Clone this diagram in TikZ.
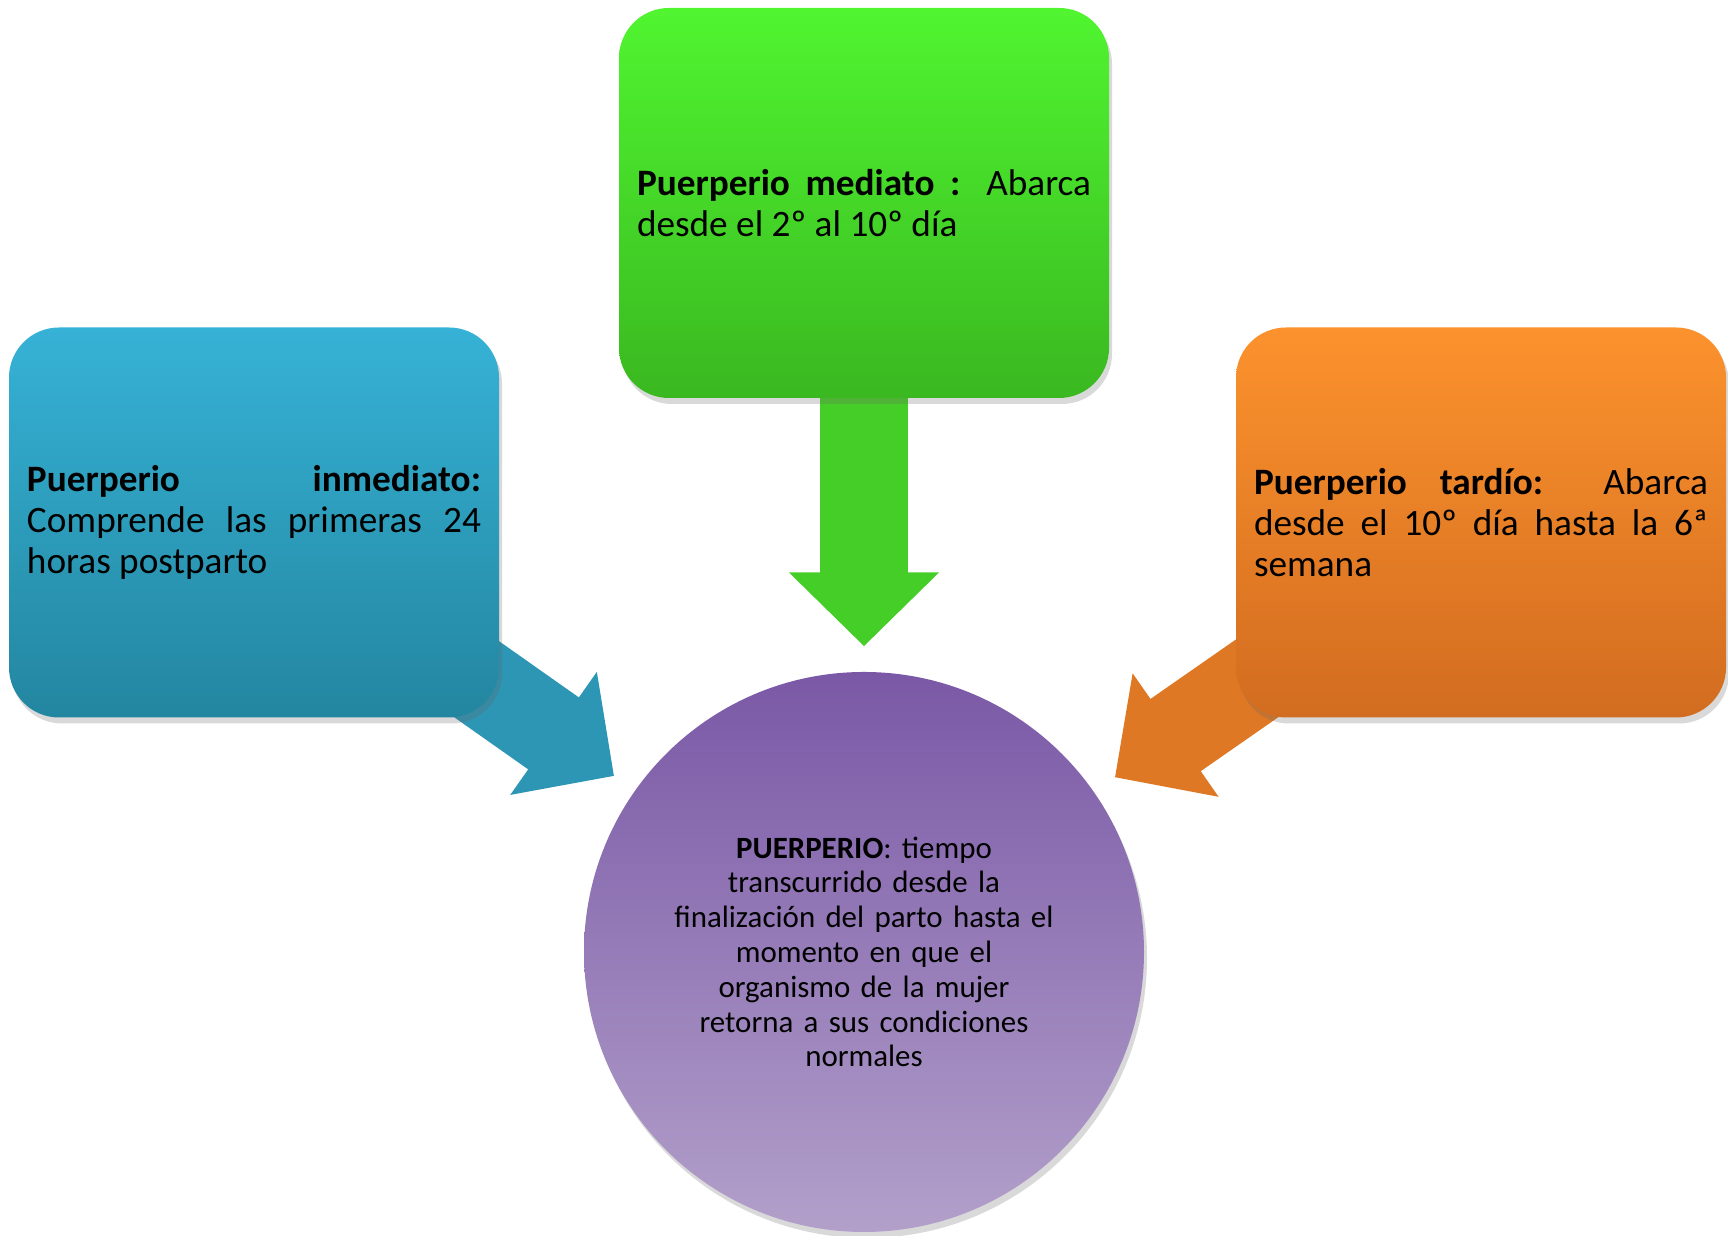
\documentclass[tikz,border=0pt]{standalone}
\usepackage{fontspec}
\setmainfont{Carlito}
\usetikzlibrary{arrows.meta,shadows,backgrounds}

\definecolor{azulA}{RGB}{54,178,214}
\definecolor{azulB}{RGB}{35,134,160}
\definecolor{azulF}{RGB}{44,150,180}
\definecolor{verdeA}{RGB}{80,245,48}
\definecolor{verdeB}{RGB}{58,184,32}
\definecolor{verdeF}{RGB}{70,206,40}
\definecolor{naranjaA}{RGB}{252,146,45}
\definecolor{naranjaB}{RGB}{210,108,32}
\definecolor{naranjaF}{RGB}{222,120,36}
\definecolor{moradoA}{RGB}{122,88,166}
\definecolor{moradoB}{RGB}{178,160,202}

\tikzset{
  caja/.style={rectangle, rounded corners=0.5cm, minimum height=3.9cm,
    text width=4.54cm, inner xsep=0.18cm, align=justify,
    font={\fontsize{10.6}{11.6}\selectfont\tolerance=9999\hbadness=10000},
    drop shadow={shadow xshift=0.03cm, shadow yshift=-0.06cm, opacity=0.25, fill=black!60}},
  flecha/.style={line width=0.88cm, line cap=butt,
    -{Triangle[width=1.46cm,length=0.74cm]}, shorten >=0.25cm},
}

\begin{document}
\begin{tikzpicture}[node distance = 7.49cm]
      \useasboundingbox (0,0) rectangle (17.28,12.36);

      \node (centro) [circle, minimum size=5.6cm, inner sep=0pt, text width=4.4cm, align=center,
        top color=moradoA, bottom color=moradoB,
        drop shadow={shadow xshift=0.03cm, shadow yshift=-0.06cm, opacity=0.25, fill=black!60},
        font={\fontsize{8.8}{9.9}\selectfont}] at (8.64,2.84)
        {\textbf{PUERPERIO}: tiempo\\ transcurrido desde la\\ finalización del parto hasta el\\
         momento en que el\\ organismo de la mujer\\ retorna a sus condiciones\\ normales};
      \node (mediato) [caja, above of=centro, top color=verdeA, bottom color=verdeB]
        {\textbf{Puerperio mediato :} Abarca\linebreak desde el 2º al 10º día};
      \node (inmediato) [caja, above of=centro, node distance=4.295cm, xshift=-6.10cm,
        top color=azulA, bottom color=azulB]
        {\textbf{Puerperio inmediato:}\linebreak Comprende las primeras 24\linebreak horas postparto};
      \node (tardio) [caja, above of=centro, node distance=4.295cm, xshift=6.17cm,
        top color=naranjaA, bottom color=naranjaB]
        {\textbf{Puerperio tardío:} Abarca\linebreak desde el 10º día hasta la 6ª\linebreak semana};

      \begin{scope}[on background layer]
       \draw[flecha, draw=azulF, fill=azulF] (inmediato.center) -- (centro);
       \draw[flecha, draw=verdeF, fill=verdeF] (mediato.center) -- (centro);
       \draw[flecha, draw=naranjaF, fill=naranjaF] (tardio.center) -- (centro);
      \end{scope}
      \end{tikzpicture}
\end{document}
